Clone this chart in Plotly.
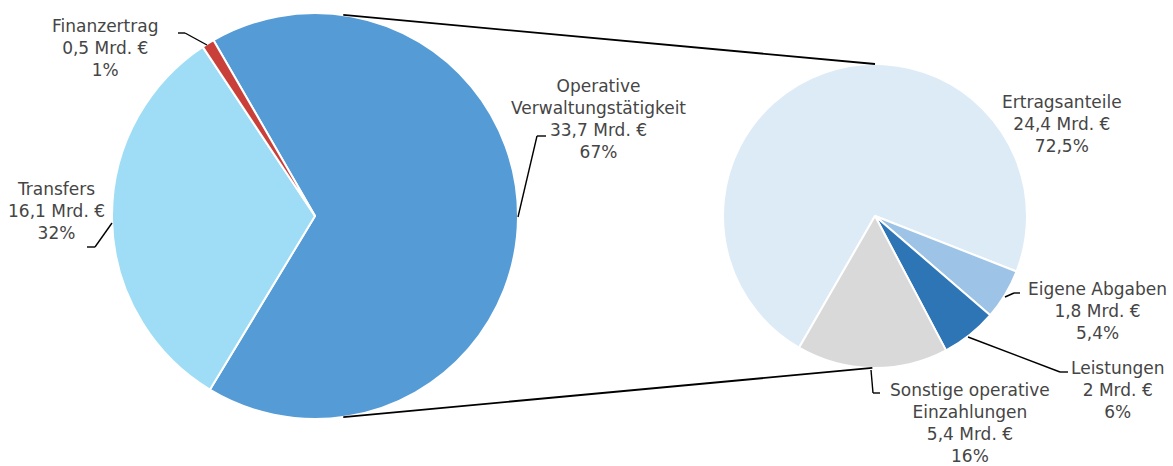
import math
import plotly.graph_objects as go

# ---- data ----
left_labels = ["Operative Verwaltungstätigkeit", "Transfers", "Finanzertrag"]
left_values = [33.7, 16.1, 0.5]
left_text = ["Operative<br>Verwaltungstätigkeit<br>33,7 Mrd. €<br>67%",
             "Transfers<br>16,1 Mrd. €<br>32%",
             "Finanzertrag<br>0,5 Mrd. €<br>1%"]
left_colors = ["#559BD6", "#9EDDF5", "#C9403A"]

right_labels = ["Ertragsanteile", "Eigene Abgaben", "Leistungen", "Sonstige operative Einzahlungen"]
right_values = [24.4, 1.8, 2.0, 5.4]
right_text = ["Ertragsanteile<br>24,4 Mrd. €<br>72,5%",
              "Eigene Abgaben<br>1,8 Mrd. €<br>5,4%",
              "Leistungen<br>2 Mrd. €<br>6%",
              "Sonstige operative<br>Einzahlungen<br>5,4 Mrd. €<br>16%"]
right_colors = ["#DDEBF7", "#9DC3E6", "#2E75B6", "#D9D9D9"]

W, H = 1173, 466
FONT = dict(family="'DejaVu Sans', sans-serif", size=17, color="#454545")

# pie geometry (pixels)
LC, LR = (315, 216), 203
RC, RR = (875, 216), 152


def dom(c, r):
    return dict(x=[(c[0] - r) / W, (c[0] + r) / W],
                y=[(H - (c[1] + r)) / H, (H - (c[1] - r)) / H])


fig = go.Figure()
fig.add_trace(go.Pie(labels=left_labels, values=left_values, sort=False,
                     direction="clockwise", rotation=-30, domain=dom(LC, LR),
                     marker=dict(colors=left_colors, line=dict(color="white", width=2)),
                     textinfo="none", hoverinfo="label+value+percent"))
fig.add_trace(go.Pie(labels=right_labels, values=right_values, sort=False,
                     direction="clockwise", rotation=-150, domain=dom(RC, RR),
                     marker=dict(colors=right_colors, line=dict(color="white", width=2)),
                     textinfo="none", hoverinfo="label+value+percent"))


def px(x):
    return x / W


def py(y):
    return 1 - y / H


def pt(c, r, ang):
    a = math.radians(ang)
    return c[0] + r * math.sin(a), c[1] - r * math.cos(a)


shapes = []


def seg(x0, y0, x1, y1, w=1.6):
    shapes.append(dict(type="line", xref="paper", yref="paper",
                       x0=px(x0), y0=py(y0), x1=px(x1), y1=py(y1),
                       line=dict(color="black", width=w)))


# connectors between the pies
a0 = pt(LC, LR, 8); b0 = pt(RC, RR, 0)
seg(a0[0], a0[1], b0[0], b0[1], 1.8)
a1 = pt(LC, LR, 172); b1 = pt(RC, RR, 181)
seg(a1[0], a1[1], b1[0], b1[1], 1.8)

# leader lines
leaders = [
    [(178, 33), (185, 33), (207, 45)],      # Finanzertrag
    [(87, 247), (95, 247), (112, 223)],     # Transfers
    [(546, 136), (537, 136), (518, 217)],   # Operative
    [(1020, 293), (1014, 293), (1005, 297)],  # Eigene Abgaben
    [(1068, 372), (1060, 372), (968, 337)],   # Leistungen
    [(880, 393), (873, 393), (871, 370)],     # Sonstige
]
for pts in leaders:
    for (x0, y0), (x1, y1) in zip(pts[:-1], pts[1:]):
        seg(x0, y0, x1, y1, 1.4)

# label positions (centre x, top y)
label_pos = {
    "Finanzertrag": (105, 14),
    "Transfers": (57, 177),
    "Operative Verwaltungstätigkeit": (598, 74),
    "Ertragsanteile": (1062, 90),
    "Eigene Abgaben": (1097, 277),
    "Leistungen": (1117, 356),
    "Sonstige operative Einzahlungen": (970, 378),
}
annotations = []
for lab, txt in list(zip(left_labels, left_text)) + list(zip(right_labels, right_text)):
    x, y = label_pos[lab]
    annotations.append(dict(x=px(x), y=py(y), xref="paper", yref="paper",
                            text=txt, showarrow=False, xanchor="center", yanchor="top",
                            align="center", font=FONT))

fig.update_layout(width=W, height=H, margin=dict(l=0, r=0, t=0, b=0),
                  paper_bgcolor="white", plot_bgcolor="white", showlegend=False,
                  shapes=shapes, annotations=annotations, font=FONT)

fig.write_html("out.html", config={"displayModeBar": False},
               post_script="document.body.style.margin='0px';document.body.style.overflow='hidden';")
